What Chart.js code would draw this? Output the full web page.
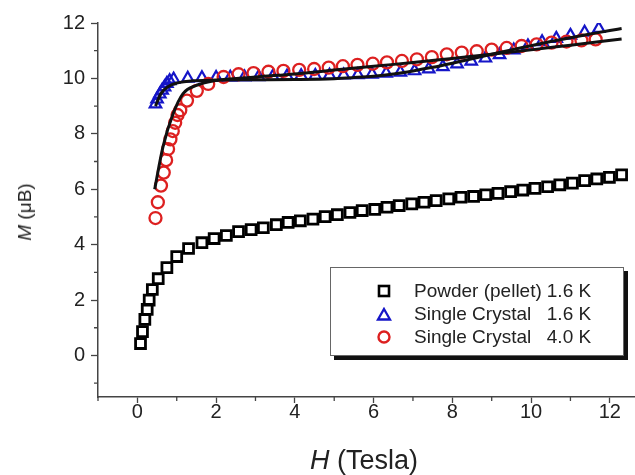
<!DOCTYPE html>
<html lang="en">
<head>
  <meta charset="UTF-8">
  <title>M vs H</title>
  <script src="https://cdn.jsdelivr.net/npm/chart.js"></script>
  <style>
    body { margin: 0; background: #fff; font-family: Arial, 'Liberation Sans', sans-serif; color: #222; }
    .wrap { position: relative; width: 635px; height: 475px; }
    #chart { position: absolute; left: 0; top: 0; }
    .xtitle { position: absolute; left: 364px; top: 460px; transform: translate(-50%, -50%); font-size: 27px; white-space: nowrap; }
    .ytitle { position: absolute; left: 25px; top: 212px; transform: translate(-50%, -50%) rotate(-90deg); font-size: 19px; white-space: nowrap; }
    #legend {
      position: absolute; left: 330px; top: 267px; width: 294px; height: 89px;
      border: 1px solid #666; background: #fff; box-shadow: 4px 4px 0 #111;
      box-sizing: border-box; padding: 11px 0 0 43px;
      display: grid; grid-template-columns: 20px auto auto; grid-auto-rows: 23px;
      column-gap: 0; font-size: 19px; justify-content: start;
    }
    #legend .mk { display: flex; align-items: center; justify-content: center; }
    #legend .nm { padding-left: 20px; line-height: 23px; }
    #legend .tp { padding-left: 5px; text-align: right; line-height: 23px; }
  </style>
</head>
<body>
  <div class="wrap">
    <canvas id="chart" width="635" height="475"></canvas>
    <div class="xtitle"><i>H</i> (Tesla)</div>
    <div class="ytitle"><i>M</i> (&mu;B)</div>
    <div id="legend">
      <span class="mk"><svg width="14" height="14"><rect x="2" y="2" width="10" height="10" fill="none" stroke="#000" stroke-width="2.6"/></svg></span>
      <span class="nm">Powder (pellet)</span><span class="tp">1.6 K</span>
      <span class="mk"><svg width="16" height="14"><polygon points="8,2 14,12.5 2,12.5" fill="none" stroke="#1515c8" stroke-width="2.3"/></svg></span>
      <span class="nm">Single Crystal</span><span class="tp">1.6 K</span>
      <span class="mk"><svg width="16" height="16"><circle cx="8" cy="8" r="5.5" fill="none" stroke="#dd2020" stroke-width="2.4"/></svg></span>
      <span class="nm">Single Crystal</span><span class="tp">4.0 K</span>
    </div>
  </div>

  <script>
    // powder (pellet), 1.6 K
    const powderH = [0.08, 0.13, 0.19, 0.25, 0.30, 0.38, 0.53, 0.75, 1.00, 1.30, 1.64, 1.95, 2.26, 2.57, 2.89, 3.20, 3.53,
      3.83, 4.14, 4.46, 4.77, 5.08, 5.40, 5.71, 6.03, 6.34, 6.65, 6.97, 7.28, 7.59, 7.91, 8.22, 8.54, 8.85, 9.16, 9.48, 9.79,
      10.10, 10.42, 10.73, 11.05, 11.36, 11.67, 11.99, 12.30];
    const powderM = [0.43, 0.86, 1.30, 1.66, 2.00, 2.38, 2.77, 3.17, 3.57, 3.86, 4.07, 4.22, 4.33, 4.47, 4.54, 4.61, 4.72,
      4.80, 4.86, 4.92, 5.01, 5.08, 5.16, 5.23, 5.27, 5.35, 5.41, 5.47, 5.53, 5.59, 5.65, 5.71, 5.74, 5.80, 5.85, 5.91, 5.97,
      6.03, 6.09, 6.16, 6.22, 6.31, 6.37, 6.43, 6.52];

    // single crystal, 1.6 K
    const crystal16H = [0.46, 0.50, 0.57, 0.63, 0.69, 0.75, 0.82, 0.92, 1.28, 1.64, 2.00, 2.36, 2.72, 3.08, 3.44, 3.80, 4.16,
      4.52, 4.88, 5.24, 5.60, 5.96, 6.32, 6.68, 7.04, 7.40, 7.76, 8.12, 8.48, 8.84, 9.20, 9.56, 9.92, 10.28, 10.64, 11.00,
      11.36, 11.72];
    const crystal16M = [9.07, 9.25, 9.43, 9.57, 9.69, 9.81, 9.91, 9.97, 10.00, 10.02, 10.03, 10.04, 10.05, 10.06, 10.07, 10.08,
      10.09, 10.10, 10.11, 10.12, 10.13, 10.15, 10.18, 10.22, 10.27, 10.34, 10.42, 10.52, 10.62, 10.73, 10.85, 11.02, 11.17,
      11.32, 11.44, 11.55, 11.66, 11.80];

    // single crystal, 4.0 K
    const crystal40H = [0.46, 0.52, 0.60, 0.67, 0.73, 0.78, 0.84, 0.90, 0.96, 1.02, 1.09, 1.26, 1.51, 1.80, 2.19, 2.57, 2.95,
      3.33, 3.71, 4.11, 4.49, 4.86, 5.22, 5.59, 5.98, 6.34, 6.72, 7.10, 7.48, 7.86, 8.24, 8.62, 9.00, 9.38, 9.76, 10.14,
      10.52, 10.90, 11.28, 11.64];
    const crystal40M = [4.96, 5.53, 6.13, 6.60, 7.05, 7.45, 7.80, 8.10, 8.40, 8.68, 8.85, 9.20, 9.55, 9.80, 10.05, 10.15, 10.19,
      10.24, 10.27, 10.31, 10.34, 10.39, 10.44, 10.49, 10.53, 10.58, 10.63, 10.69, 10.77, 10.87, 10.93, 10.98, 11.04, 11.10,
      11.17, 11.23, 11.29, 11.33, 11.37, 11.41];

    // fitted curves
    const fitAH = [0.46, 0.60, 0.80, 1.00, 1.50, 2.00, 3.00, 4.00, 5.00, 5.50, 6.00, 6.50, 7.00, 7.50, 8.00, 8.50, 9.00,
      9.50, 10.00, 10.50, 11.00, 11.50, 12.00, 12.30];
    const fitAM = [9.00, 9.45, 9.72, 9.83, 9.92, 9.94, 9.95, 9.96, 9.99, 10.03, 10.08, 10.16, 10.27, 10.40, 10.55, 10.71,
      10.87, 11.03, 11.18, 11.33, 11.47, 11.60, 11.73, 11.80];
    const fitBH = [0.44, 0.65, 0.91, 1.16, 1.50, 1.92, 3.00, 4.00, 5.00, 6.00, 7.00, 8.00, 9.00, 10.00, 11.00, 12.30];
    const fitBM = [6.00, 7.53, 8.73, 9.45, 9.75, 9.91, 10.05, 10.16, 10.30, 10.44, 10.57, 10.72, 10.87, 11.03, 11.20, 11.42];

    const xTicks = [0, 2, 4, 6, 8, 10, 12];
    const xMinor = [-1, 1, 3, 5, 7, 9, 11];
    const yTicks = [0, 2, 4, 6, 8, 10, 12];
    const yMinor = [-1, 1, 3, 5, 7, 9, 11];

    const pts = (xs, ys) => xs.map((x, i) => ({ x: x, y: ys[i] }));
    const axisColor = '#444';

    // short minor tick marks at odd values
    const minorTicks = {
      id: 'minorTicks',
      afterDraw(chart) {
        const ctx = chart.ctx, xs = chart.scales.x, ys = chart.scales.y;
        ctx.save();
        ctx.strokeStyle = axisColor;
        ctx.lineWidth = 1.3;
        ctx.beginPath();
        xMinor.forEach(v => {
          const p = xs.getPixelForValue(v);
          ctx.moveTo(p, xs.top); ctx.lineTo(p, xs.top + 4);
        });
        yMinor.forEach(v => {
          const p = ys.getPixelForValue(v);
          ctx.moveTo(ys.right - 4, p); ctx.lineTo(ys.right, p);
        });
        ctx.stroke();
        ctx.restore();
      }
    };

    new Chart(document.getElementById('chart'), {
      type: 'scatter',
      data: {
        datasets: [
          { type: 'line', data: pts(fitAH, fitAM), borderColor: '#111', borderWidth: 3, pointRadius: 0,
            cubicInterpolationMode: 'monotone', fill: false, order: 0 },
          { type: 'line', data: pts(fitBH, fitBM), borderColor: '#111', borderWidth: 3, pointRadius: 0,
            cubicInterpolationMode: 'monotone', fill: false, order: 0 },
          { data: pts(crystal40H, crystal40M), pointStyle: 'circle', pointRadius: 6, borderWidth: 2.3,
            borderColor: '#dd2020', backgroundColor: 'transparent', order: 1 },
          { data: pts(crystal16H, crystal16M), pointStyle: 'triangle', pointRadius: 6.6, borderWidth: 2.2,
            borderColor: '#1515c8', backgroundColor: 'transparent', order: 2 },
          { data: pts(powderH, powderM), pointStyle: 'rect', pointRadius: 7, borderWidth: 2.8,
            borderColor: '#000', backgroundColor: 'transparent', order: 3 }
        ]
      },
      options: {
        responsive: false,
        animation: false,
        layout: { autoPadding: false, padding: { top: 23, right: 0, left: 0, bottom: 0 } },
        plugins: { legend: { display: false }, tooltip: { enabled: false } },
        elements: { point: { hoverRadius: 0 } },
        scales: {
          x: {
            type: 'linear', min: -1, max: 12.64,
            afterBuildTicks: s => { s.ticks = xTicks.map(v => ({ value: v })); },
            afterFit: s => { s.height = 78; s.paddingLeft = 0; s.paddingRight = 0; },
            border: { display: true, color: axisColor, width: 1.5 },
            grid: { drawOnChartArea: false, drawTicks: true, tickLength: 6, tickColor: axisColor, tickWidth: 1.3 },
            ticks: { color: '#222', font: { family: 'Arial', size: 20 }, padding: -3 }
          },
          y: {
            type: 'linear', min: -1.5, max: 12,
            afterBuildTicks: s => { s.ticks = yTicks.map(v => ({ value: v })); },
            afterFit: s => { s.width = 98; s.paddingTop = 0; s.paddingBottom = 0; },
            border: { display: true, color: axisColor, width: 1.5 },
            grid: { drawOnChartArea: false, drawTicks: true, tickLength: 7, tickColor: axisColor, tickWidth: 1.3 },
            ticks: { color: '#222', font: { family: 'Arial', size: 20 }, padding: 6 }
          }
        }
      },
      plugins: [minorTicks]
    });
  </script>
</body>
</html>
